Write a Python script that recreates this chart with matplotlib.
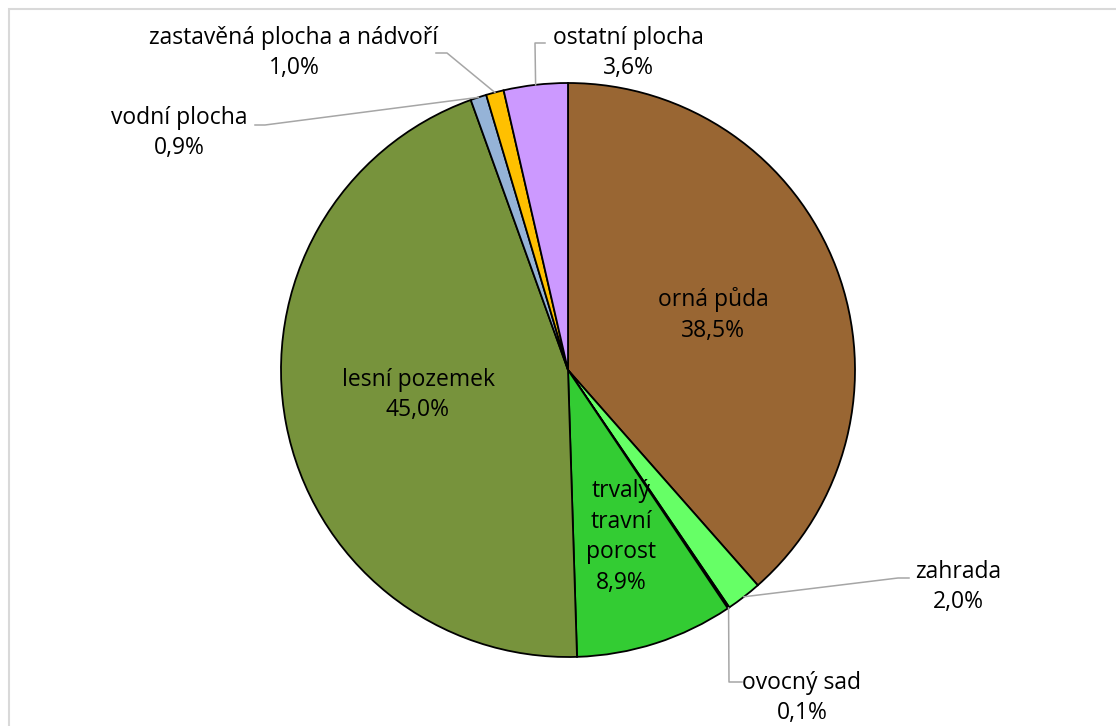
import numpy as np
import matplotlib.pyplot as plt
from matplotlib.patches import Rectangle

# data
labels = ['orná půda', 'zahrada', 'ovocný sad', 'trvalý\ntravní\nporost',
          'lesní pozemek', 'vodní plocha', 'zastavěná plocha a nádvoří', 'ostatní plocha']
values = [38.5, 2.0, 0.1, 8.9, 45.0, 0.9, 1.0, 3.6]
colors = ['#996633', '#66FF66', '#006600', '#33CC33',
          '#77933C', '#95B3D7', '#FFC000', '#CC99FF']

W, H = 1116, 726
cx, cy, R = 568, 370, 287


def fy(y):
    # pixel row -> data y
    return H - y


plt.rcParams['font.family'] = ['Open Sans', 'DejaVu Sans']

fig = plt.figure(figsize=(W / 100, H / 100), dpi=100)
ax = fig.add_axes([0, 0, 1, 1])

# light grey chart frame (right and bottom edges run off the image)
ax.add_patch(Rectangle((9, -20), W + 20, fy(9) + 20, fill=False, ec='#D9D9D9', lw=1.5))

ax.pie(values, colors=colors, startangle=90, counterclock=False,
       center=(cx, fy(cy)), radius=R,
       wedgeprops=dict(edgecolor='black', linewidth=1.3))
ax.set_xlim(0, W)
ax.set_ylim(0, H)
ax.set_aspect('equal')
ax.axis('off')

fs = 16.5
ls = 1.38
pct = [f'{v:.1f}'.replace('.', ',') + '%' for v in values]

# inside labels
inside = {0: (713, 315), 3: (621, 537), 4: (418, 395)}
for i, (x, y) in inside.items():
    ax.text(x, fy(y), labels[i] + '\n' + pct[i], ha='center', va='center',
            fontsize=fs, linespacing=ls)

# outside labels: text centre and leader elbow / end (pixels)
outside = {
    1: ((958, 587), [(898, 578), (909, 578)]),
    2: ((802, 698), [(729, 682), (742, 682)]),
    5: ((179, 133), [(265, 125), (255, 125)]),
    6: ((294, 53), [(447, 53), (436, 53)]),
    7: ((628, 53), [(535, 43), (545, 43)]),
}
cum = np.cumsum([0] + values)
for i, ((tx, ty), pts) in outside.items():
    mid = 90 - 360 * (cum[i] + values[i] / 2) / 100
    a = np.radians(mid)
    sx, sy = cx + R * np.cos(a), cy - R * np.sin(a)
    xs = [sx] + [p[0] for p in pts]
    ys = [fy(sy)] + [fy(p[1]) for p in pts]
    ax.plot(xs, ys, color='#A6A6A6', lw=1.1)
    ax.text(tx, fy(ty), labels[i] + '\n' + pct[i], ha='center', va='center',
            fontsize=fs, linespacing=ls)

fig.savefig('out.png', dpi=100)
